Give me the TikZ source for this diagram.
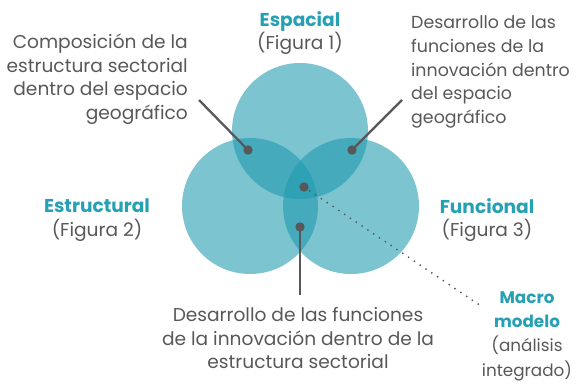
\documentclass[tikz,border=0pt]{standalone}
\usepackage{fontspec}
\setmainfont{Poppins}
\definecolor{circ}{RGB}{29,153,174}
\definecolor{ttl}{RGB}{38,160,180}
\definecolor{txt}{RGB}{88,88,90}
\begin{document}
\begin{tikzpicture}[x=1pt,y=-1pt,
  venn/.style={fill=circ,fill opacity=0.58,draw=none},
  lbl/.style={inner sep=0pt,text=txt,font=\fontsize{18.6}{23.6}\selectfont},
  pin/.style={fill=txt,draw=none},
  lead/.style={draw=txt,line width=2.3pt},
  dotlead/.style={draw=txt,line width=2pt,line cap=round,dash pattern=on 0pt off 7pt}]
\useasboundingbox (0,0) rectangle (577,384);
\fill[venn] (300,131) circle (68);
\fill[venn] (250,206) circle (68);
\fill[venn] (351,206) circle (68);
% texts
\node[lbl,align=center] (esp) at (300,33) {{\bfseries\color{ttl}Espacial}\\(Figura 1)};
\node[lbl,align=center] (est) at (97,220) {{\bfseries\color{ttl}Estructural}\\(Figura 2)};
\node[lbl,align=center] (fun) at (487,220) {{\bfseries\color{ttl}Funcional}\\(Figura 3)};
\node[lbl,align=center,font=\fontsize{16.8}{24.4}\selectfont] (mac) at (527,336) {{\bfseries\color{ttl}Macro}\\{\bfseries\color{ttl}modelo}\\(análisis\\integrado)};
\node[lbl,align=right,anchor=east] (tl) at (188,79) {Composición de la\\estructura sectorial\\dentro del espacio\\geográfico};
\node[lbl,align=left,anchor=west,font=\fontsize{17.4}{23.8}\selectfont] (tr) at (411,72) {Desarrollo de las\\funciones de la\\innovación dentro\\del espacio\\geográfico};
\node[lbl,align=center] (bt) at (298,338) {Desarrollo de las funciones\\de la innovación dentro de la\\estructura sectorial};
% pins
\coordinate (p1) at (248,150);
\coordinate (p2) at (352,150);
\coordinate (p3) at (304,187);
\coordinate (p4) at (300,227);
\coordinate (e1) at (199,100);
\coordinate (e2) at (402,100);
\coordinate (e3) at (481,306);
\coordinate (e4) at (300,295);
\draw[lead] (p1) -- (e1);
\draw[lead] (p2) -- (e2);
\draw[lead] (p4) -- (e4);
\draw[dotlead] (p3) -- (e3);
\fill[pin] (p1) circle (4.7);
\fill[pin] (p2) circle (4.7);
\fill[pin] (p3) circle (4.7);
\fill[pin] (p4) circle (4.7);
\end{tikzpicture}
\end{document}
